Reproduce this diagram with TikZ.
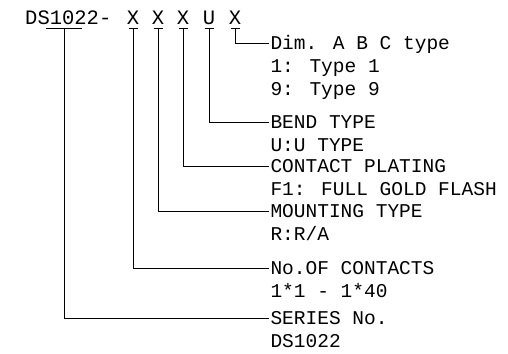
\documentclass[tikz,border=0pt]{standalone}
\usepackage{fontspec}
\setmainfont{Liberation Mono}
\usetikzlibrary{positioning}
\tikzset{
  code/.style={inner sep=0, text height=13pt, text depth=0pt, font=\fontsize{20.5}{20.5}\selectfont},
  lbl/.style={code, outer xsep=1.5pt, outer ysep=0pt, font=\fontsize{19.5}{19.5}\selectfont},
  lead/.style={line width=0.8pt},
}

\begin{document}
\begin{tikzpicture}[x=1pt, y=1pt, node distance=10pt]
\useasboundingbox (0,0) rectangle (508,-353);
% part number
\node[code, anchor=base west] (ds) at (25,-25) {DS1022-};
\node[code, anchor=base] (x1) at (133,-25) {X};
\node[code, anchor=base] (x2) at (158,-25) {X};
\node[code, anchor=base] (x3) at (183,-25) {X};
\node[code, anchor=base] (u) at (209,-25) {U};
\node[code, anchor=base] (x5) at (235,-25) {X};
\coordinate (t0) at (64,-28);
\coordinate (t1) at ([yshift=-3pt]x1.base);
\coordinate (t2) at ([yshift=-3pt]x2.base);
\coordinate (t3) at ([yshift=-3pt]x3.base);
\coordinate (t4) at ([yshift=-3pt]u.base);
\coordinate (t5) at ([yshift=-3pt]x5.base);
% explanations
\node[lbl, anchor=west] (dim) at (269,-43) {Dim. A B C type};
\node[lbl, below=of dim.south west, anchor=north west] (dim1) {1: Type 1};
\node[lbl, below=of dim1.south west, anchor=north west] (dim9) {9: Type 9};
\node[lbl, anchor=west] (bend) at (269,-122) {BEND TYPE};
\node[lbl, below=of bend.south west, anchor=north west] (bendu) {U:U TYPE};
\node[lbl, anchor=west] (plat) at (269,-166) {CONTACT PLATING};
\node[lbl, below=of plat.south west, anchor=north west] (platf) {F1: FULL GOLD FLASH};
\node[lbl, anchor=west] (mnt) at (269,-211) {MOUNTING TYPE};
\node[lbl, below=of mnt.south west, anchor=north west] (mntr) {R:R/A};
\node[lbl, anchor=west] (cnt) at (269,-268) {No.OF CONTACTS};
\node[lbl, below=of cnt.south west, anchor=north west] (cntn) {1*1 - 1*40};
\node[lbl, anchor=west] (ser) at (269,-318) {SERIES No.};
\node[lbl, below=of ser.south west, anchor=north west] (serds) {DS1022};
% ticks
\draw[lead] (46,-28) -- (82,-28);
\draw[lead] ([xshift=-4.5pt]t1) -- ([xshift=4.5pt]t1);
\draw[lead] ([xshift=-4.5pt]t2) -- ([xshift=4.5pt]t2);
\draw[lead] ([xshift=-4.5pt]t3) -- ([xshift=4.5pt]t3);
\draw[lead] ([xshift=-4.5pt]t4) -- ([xshift=4.5pt]t4);
\draw[lead] ([xshift=-4.5pt]t5) -- ([xshift=4.5pt]t5);
% leaders
\draw[lead] (t0) |- (ser);
\draw[lead] (t1) |- (cnt);
\draw[lead] (t2) |- (mnt);
\draw[lead] (t3) |- (plat);
\draw[lead] (t4) |- (bend);
\draw[lead] (t5) |- (dim);
\end{tikzpicture}
\end{document}
